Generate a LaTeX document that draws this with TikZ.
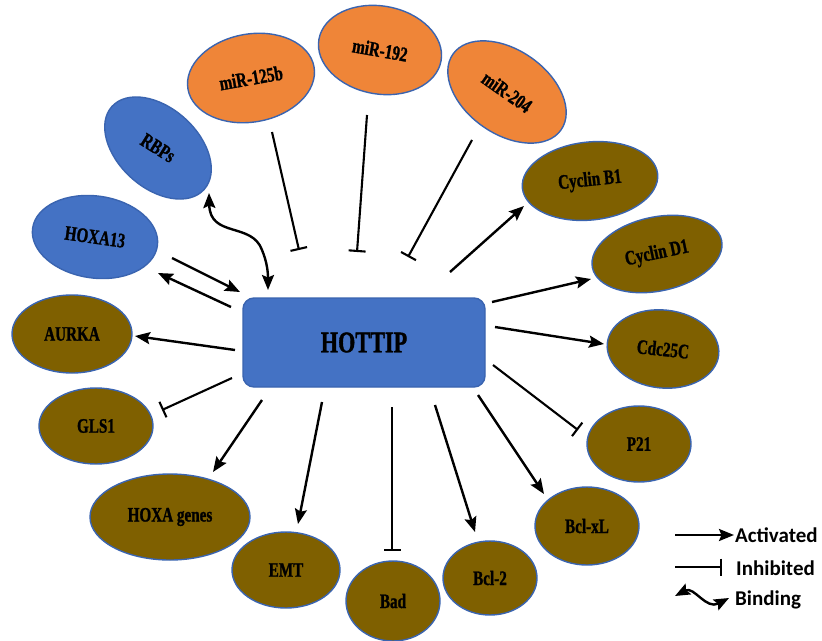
\documentclass[tikz,border=0pt]{standalone}
\usepackage{fontspec}
\setmainfont{Liberation Serif}
\newfontfamily\labfont[FakeStretch=0.74,FakeBold=1.2]{Liberation Serif}
\newfontfamily\legfont{Carlito}
\usetikzlibrary{shapes.geometric,arrows.meta}
\definecolor{orng}{HTML}{EF8538}
\definecolor{blu}{HTML}{4472C4}
\definecolor{brwn}{HTML}{7F6000}
\definecolor{edgeblu}{HTML}{3A64B0}
\tikzset{
  gene/.style={ellipse, draw=edgeblu, line width=1.4pt, inner sep=0pt, text=black,
    font=\labfont\bfseries\fontsize{20.5}{20.5}\selectfont},
  og/.style={gene, fill=orng},
  bg/.style={gene, fill=blu},
  brg/.style={gene, fill=brwn},
  act/.style={line width=2.4pt, -{Stealth[length=15pt,width=12pt,inset=2.5pt]}},
  inh/.style={line width=2.1pt, -{Bar[width=17pt,line width=2.1pt]}},
  bind/.style={line width=2.4pt, {Stealth[length=15pt,width=12pt,inset=2.5pt]}-{Stealth[length=15pt,width=12pt,inset=2.5pt]}},
  legtext/.style={anchor=west, inner sep=0pt, font=\legfont\bfseries\fontsize{21}{21}\selectfont}
}
\begin{document}
\begin{tikzpicture}[x=1pt,y=-1pt]
\useasboundingbox[fill=white] (0,0) rectangle (822,640);

% central node
\node[rectangle, rounded corners=11pt, fill=blu, draw=edgeblu, line width=1.4pt,
  minimum width=242pt, minimum height=89pt, inner sep=0pt,
  font=\labfont\bfseries\fontsize{30}{30}\selectfont] (hot) at (364,342.5) {HOTTIP};

% miRNAs
\node[og, minimum width=128pt, minimum height=88pt, rotate=10] (m125) at (251,78) {miR-125b};
\node[og, minimum width=124pt, minimum height=88pt, rotate=-10] (m192) at (380,50) {miR-192};
\node[og, minimum width=132pt, minimum height=84pt, rotate=-35] (m204) at (507,92) {miR-204};

% blue partners
\node[bg, minimum width=124pt, minimum height=80pt, rotate=-42] (rbp) at (158,148) {\rotatebox{10}{RBPs}};
\node[bg, minimum width=126pt, minimum height=82pt, rotate=-8] (hx13) at (95,237) {HOXA13};

% brown targets
\node[brg, minimum width=136pt, minimum height=78pt, rotate=6] (cb1) at (590,181) {Cyclin B1};
\node[brg, minimum width=132pt, minimum height=74pt, rotate=12] (cd1) at (657,254) {Cyclin D1};
\node[brg, minimum width=112pt, minimum height=78pt, rotate=-6] (cdc) at (663,349) {Cdc25C};
\node[brg, minimum width=104pt, minimum height=76pt] (p21) at (639,444) {P21};
\node[brg, minimum width=104pt, minimum height=78pt] (bxl) at (587,526) {Bcl-xL};
\node[brg, minimum width=94pt, minimum height=74pt] (bc2) at (490,578) {Bcl-2};
\node[brg, minimum width=94pt, minimum height=80pt] (bad) at (393,601) {Bad};
\node[brg, minimum width=108pt, minimum height=76pt] (emt) at (286,570) {EMT};
\node[brg, minimum width=160pt, minimum height=86pt] (hxg) at (170,517) {HOXA genes};
\node[brg, minimum width=114pt, minimum height=76pt] (gls) at (96,426) {GLS1};
\node[brg, minimum width=120pt, minimum height=78pt] (aur) at (72,334) {AURKA};

% connector end points
\coordinate (a1) at (272,132); \coordinate (b1) at (299,250);
\coordinate (a2) at (367,115); \coordinate (b2) at (357,252);
\coordinate (a3) at (472,140); \coordinate (b3) at (408,257);
\coordinate (a4) at (450,272); \coordinate (b4) at (524,206);
\coordinate (a5) at (492,302); \coordinate (b5) at (591,279);
\coordinate (a6) at (495,327); \coordinate (b6) at (604,344);
\coordinate (a7) at (493,365); \coordinate (b7) at (578,430);
\coordinate (a8) at (478,395); \coordinate (b8) at (544,494);
\coordinate (a9) at (435,405); \coordinate (b9) at (475,532);
\coordinate (a10) at (392,407); \coordinate (b10) at (392,551);
\coordinate (a11) at (322,402); \coordinate (b11) at (298,524);
\coordinate (a12) at (262,400); \coordinate (b12) at (213,472);
\coordinate (a13) at (232,378); \coordinate (b13) at (162,410);
\coordinate (a14) at (235,350); \coordinate (b14) at (135,336);
\coordinate (a15) at (172,258); \coordinate (b15) at (240,292);
\coordinate (a16) at (231,307); \coordinate (b16) at (158,273);
\coordinate (a17) at (209,193); \coordinate (b17) at (268,290);

% connectors
\draw[inh] (a1) -- (b1);
\draw[inh] (a2) -- (b2);
\draw[inh] (a3) -- (b3);
\draw[act] (a4) -- (b4);
\draw[act] (a5) -- (b5);
\draw[act] (a6) -- (b6);
\draw[inh] (a7) -- (b7);
\draw[act] (a8) -- (b8);
\draw[act] (a9) -- (b9);
\draw[inh] (a10) -- (b10);
\draw[act] (a11) -- (b11);
\draw[act] (a12) -- (b12);
\draw[inh] (a13) -- (b13);
\draw[act] (a14) -- (b14);
\draw[act] (a15) -- (b15);
\draw[act] (a16) -- (b16);
\draw[bind] (a17) .. controls (210,238) and (252,222) .. (262,250) .. controls (267,262) and (268,272) .. (b17);

% legend
\coordinate (la1) at (675,535); \coordinate (la2) at (734,535);
\coordinate (li1) at (675,567); \coordinate (li2) at (722,567);
\coordinate (lb1) at (675,596); \coordinate (lb2) at (729,598);
\draw[act] (la1) -- (la2);
\draw[inh] (li1) -- (li2);
\draw[bind] (lb1) .. controls (694,586) and (706,610) .. (lb2);
\node[legtext] (lt1) at (735,535) {Activated};
\node[legtext] (lt2) at (736,568) {Inhibited};
\node[legtext] (lt3) at (735,600) {Binding};
\end{tikzpicture}
\end{document}
